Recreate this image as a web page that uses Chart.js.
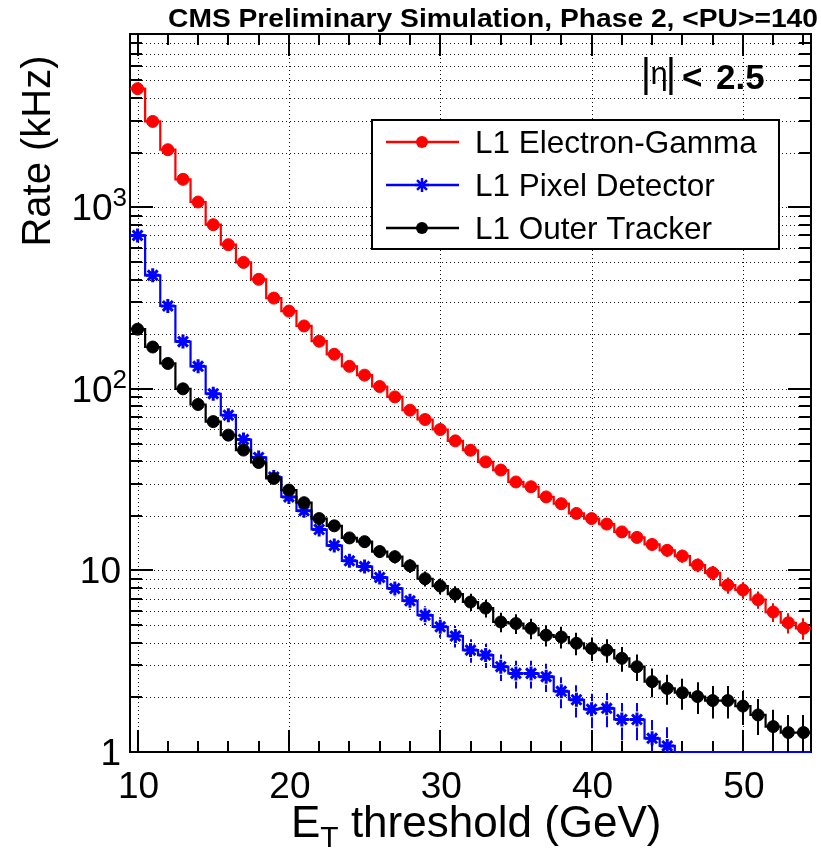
<!DOCTYPE html>
<html>
<head>
<meta charset="utf-8">
<script src="https://cdn.jsdelivr.net/npm/chart.js@4.4.1/dist/chart.umd.min.js"></script>
<style>
html,body{margin:0;padding:0;background:#fff;}
canvas{display:block;}
</style>
</head>
<body>
<canvas id="c" width="821" height="851"></canvas>
<script>
// ---------------- data ----------------
const thresholds = [10,11,12,13,14,15,16,17,18,19,20,21,22,23,24,25,26,27,28,29,30,31,32,33,34,35,36,37,38,39,40,41,42,43,44,45,46,47,48,49,50,51,52,53,54];

const egammaRate = [4500,2970,2075,1425,1069,802,622,497,401,316,268,222,183,155,133,119,103,90.3,76.3,67.8,59.7,51.7,45.9,39.6,35.7,30.7,28.9,25.4,23.3,20.6,19.3,18.0,16.3,15.2,13.9,12.9,12.0,10.7,9.7,8.3,7.8,6.9,5.9,5.15,4.8];
const egammaErr  = [19,15.4,12.9,10.7,9.2,8.0,7.1,6.3,5.7,5.0,4.6,4.2,3.8,3.5,3.3,3.1,2.9,2.7,2.5,2.3,2.2,2.0,1.9,1.8,1.7,1.6,1.5,1.4,1.37,1.28,1.24,1.2,1.14,1.1,1.05,1.02,0.98,0.93,0.88,0.85,0.8,0.75,0.7,0.66,0.65];

const pixelRate = [700,422,286,182,133,94,71.6,52.6,41.9,32.7,25.4,21.3,16.8,13.7,11.3,10.5,9.15,7.96,6.8,5.67,4.89,4.35,3.64,3.42,2.95,2.71,2.71,2.6,2.16,1.94,1.72,1.74,1.51,1.51,1.19,1.08,0,0,0,0,0,0,0,0,0];
const pixelErr  = [7.5,5.8,4.8,3.8,3.3,2.7,2.4,2.05,1.83,1.62,1.43,1.3,1.16,1.05,0.95,0.92,0.86,0.8,0.74,0.67,0.63,0.59,0.54,0.52,0.49,0.47,0.47,0.46,0.42,0.39,0.37,0.37,0.35,0.35,0.31,0.29,0,0,0,0,0,0,0,0,0];

const trackerRate = [213,170,138,100,82,66,55.6,46,39.3,32.1,27.7,23.6,19.3,17.6,15.1,14.4,12.7,11.9,10.6,9.0,8.2,7.4,6.7,6.2,5.2,5.1,4.8,4.4,4.3,3.97,3.72,3.64,3.28,2.95,2.44,2.24,2.12,2.02,1.92,1.92,1.79,1.60,1.38,1.28,1.28];
const trackerErr  = [4.1,3.7,3.3,2.8,2.6,2.3,2.1,1.9,1.77,1.6,1.5,1.37,1.24,1.19,1.1,1.07,1.0,0.98,0.92,0.85,0.81,0.77,0.73,0.7,0.64,0.64,0.62,0.59,0.59,0.56,0.55,0.54,0.51,0.49,0.44,0.42,0.41,0.4,0.39,0.39,0.38,0.36,0.33,0.32,0.32];

const seriesNames = ['L1 Electron-Gamma','L1 Pixel Detector','L1 Outer Tracker'];
const xTickValues = [10,20,30,40,50];
const xTickLabels = ['10','20','30','40','50'];
const yTickValues = [1,10,100,1000];
const yTickLabels = ['1','10','10^2','10^3'];
const titleText = 'CMS Preliminary Simulation, Phase 2, <PU>=140';
const xTitle = ['E','T',' threshold (GeV)'];
const yTitle = 'Rate (kHz)';

// ---------------- setup ----------------
const X_MIN = 9.5, X_MAX = 54.5, Y_MIN = 1, Y_MAX = 9000, BIN = 1;
const FONT = '"Liberation Sans", Arial, Helvetica, sans-serif';
const RED = '#ff0000', BLUE = '#0000ff', BLACK = '#000000';

function stepPoints(rates){
  const pts = thresholds.map((t,i)=>({x:t-BIN/2, y:Math.max(rates[i],Y_MIN)}));
  pts.push({x:thresholds[thresholds.length-1]+BIN/2, y:Math.max(rates[rates.length-1],Y_MIN)});
  return pts;
}
function markerPoints(rates){
  return thresholds.map((t,i)=>({x:t, y:rates[i]>0?rates[i]:null}));
}

const errorMap = {1:{err:egammaErr, rate:egammaRate, color:RED, gap:0},
                  3:{err:trackerErr, rate:trackerRate, color:BLACK, gap:0},
                  5:{err:pixelErr, rate:pixelRate, color:BLUE, gap:8}};

function line(ctx,x1,y1,x2,y2){ctx.beginPath();ctx.moveTo(x1,y1);ctx.lineTo(x2,y2);ctx.stroke();}

const rootStyle = {
  id:'rootStyle',
  beforeDatasetsDraw(chart){
    const {ctx, chartArea:a, scales:{x,y}} = chart;
    ctx.save();
    // grid
    ctx.strokeStyle='#111'; ctx.lineWidth=1; ctx.setLineDash([1,3]);
    xTickValues.forEach(v=>{const p=Math.round(x.getPixelForValue(v))+0.5; line(ctx,p,a.top,p,a.bottom);});
    const yGrid=[];
    yTickValues.forEach(d=>{for(let m=1;m<=9;m++){const v=m*d; if(v>Y_MIN && v<=Y_MAX) yGrid.push(v);}});
    yGrid.forEach(v=>{const p=Math.round(y.getPixelForValue(v))+0.5; line(ctx,a.left,p,a.right,p);});
    ctx.setLineDash([]);
    // frame
    ctx.strokeStyle=BLACK; ctx.lineWidth=2;
    ctx.strokeRect(a.left,a.top,a.right-a.left,a.bottom-a.top);
    // y ticks
    yTickValues.forEach(d=>{for(let m=1;m<=9;m++){const v=m*d; if(v<Y_MIN||v>Y_MAX) continue;
      const p=Math.round(y.getPixelForValue(v)); const L=(m===1)?23:12;
      line(ctx,a.left,p,a.left+L,p); line(ctx,a.right,p,a.right-L,p);}});
    // x ticks
    for(let v=10; v<=X_MAX; v+=2){
      const p=Math.round(x.getPixelForValue(v)); const L=(v%10===0)?22:11;
      line(ctx,p,a.bottom,p,a.bottom-L); line(ctx,p,a.top,p,a.top+L);
    }
    ctx.restore();
  },
  afterDatasetDraw(chart,args){
    const e=errorMap[args.index]; if(!e) return;
    const {ctx, chartArea:a, scales:{x,y}} = chart;
    ctx.save();
    ctx.beginPath(); ctx.rect(a.left,a.top,a.right-a.left,a.bottom-a.top); ctx.clip();
    ctx.strokeStyle=e.color; ctx.lineWidth=2;
    thresholds.forEach((t,i)=>{
      const v=e.rate[i], er=e.err[i]; if(!(v>0) || !(er>0)) return;
      const px=Math.round(x.getPixelForValue(t));
      const pc=y.getPixelForValue(v);
      const ph=y.getPixelForValue(v+er);
      const pl=(v-er>0)?y.getPixelForValue(v-er):a.bottom+5;
      if(pc-ph>e.gap) line(ctx,px,pc-e.gap,px,ph);
      if(pl-pc>e.gap) line(ctx,px,pc+e.gap,px,pl);
    });
    ctx.restore();
  },
  afterDraw(chart){
    const {ctx, chartArea:a, scales:{x,y}} = chart;
    ctx.save();
    ctx.fillStyle=BLACK;
    // y tick labels
    yTickValues.forEach((v,i)=>{
      const p=y.getPixelForValue(v); const lab=yTickLabels[i];
      ctx.textBaseline='alphabetic';
      if(lab.includes('^')){
        const [b,ex]=lab.split('^');
        ctx.font='26px '+FONT; ctx.textAlign='right';
        const exRight=a.left-3;
        ctx.fillText(ex,exRight,p-1);
        const ew=ctx.measureText(ex).width;
        ctx.font='37px '+FONT;
        ctx.fillText(b,exRight-ew,p+13);
      } else {
        ctx.font='37px '+FONT; ctx.textAlign='right';
        ctx.fillText(lab,a.left-9,p+13);
      }
    });
    // x tick labels
    ctx.font='37px '+FONT; ctx.textAlign='center'; ctx.textBaseline='alphabetic';
    xTickValues.forEach((v,i)=>{ctx.fillText(xTickLabels[i], x.getPixelForValue(v)+1, a.bottom+46);});
    // x title
    ctx.textAlign='left';
    let cx=291; const by=837;
    ctx.font='44px '+FONT; ctx.fillText(xTitle[0],cx,by); cx+=ctx.measureText(xTitle[0]).width;
    ctx.font='30px '+FONT; ctx.fillText(xTitle[1],cx,by+10); cx+=ctx.measureText(xTitle[1]).width;
    ctx.font='44px '+FONT; ctx.fillText(xTitle[2],cx,by);
    // y title
    ctx.save(); ctx.translate(50,151); ctx.rotate(-Math.PI/2);
    ctx.font='40px '+FONT; ctx.textAlign='center'; ctx.fillText(yTitle,0,0);
    ctx.restore();
    // top title
    ctx.font='bold 26px '+FONT; ctx.textAlign='left';
    const tw=ctx.measureText(titleText).width;
    ctx.save(); ctx.translate(168,27); ctx.scale(650/tw,1); ctx.fillText(titleText,0,0); ctx.restore();
    // |eta| < 2.5
    ctx.font='40px '+FONT; ctx.textAlign='center';
    ctx.fillText('|',646,87); ctx.fillText('|',671,87);
    ctx.font='31px '+FONT; ctx.fillText('\u03b7',659,84);
    ctx.font='bold 35px '+FONT; ctx.textAlign='left';
    ctx.fillText('<',682,89); ctx.fillText('2.5',716,89);
    // legend
    const lx=372, ly=120, lw=407, lh=129;
    ctx.fillStyle='#fff'; ctx.fillRect(lx,ly,lw,lh);
    ctx.strokeStyle=BLACK; ctx.lineWidth=2; ctx.strokeRect(lx,ly,lw,lh);
    const rows=[142,185,228], cols=[RED,BLUE,BLACK];
    rows.forEach((ry,i)=>{
      ctx.strokeStyle=cols[i]; ctx.lineWidth=2.5; line(ctx,386,ry,459,ry);
      if(i===1){
        Chart.helpers.drawPoint(ctx,{pointStyle:'star',radius:7,borderWidth:3},422,ry);
      } else {
        ctx.fillStyle=cols[i]; ctx.beginPath(); ctx.arc(422,ry,6,0,Math.PI*2); ctx.fill();
      }
      ctx.fillStyle=BLACK; ctx.font='31.5px '+FONT; ctx.textAlign='left'; ctx.textBaseline='alphabetic';
      ctx.fillText(seriesNames[i],475,ry+11);
    });
    ctx.restore();
  }
};

function histDS(rates,color,order){
  return {type:'line', data:stepPoints(rates), stepped:true, borderColor:color, borderWidth:2.2,
    pointRadius:0, fill:false, order:order, tension:0, clip:false};
}
function markDS(name,rates,color,style,radius,order){
  return {type:'line', label:name, data:markerPoints(rates), showLine:false, pointStyle:style,
    pointRadius:radius, pointBackgroundColor:color, pointBorderColor:color,
    pointBorderWidth:style==='star'?3:1, order:order, clip:false};
}

new Chart(document.getElementById('c'),{
  type:'line',
  data:{datasets:[
    histDS(egammaRate,RED,1),
    markDS(seriesNames[0],egammaRate,RED,'circle',6,0),
    histDS(trackerRate,BLACK,3),
    markDS(seriesNames[2],trackerRate,BLACK,'circle',6,2),
    histDS(pixelRate,BLUE,5),
    markDS(seriesNames[1],pixelRate,BLUE,'star',7,4)
  ]},
  options:{
    responsive:false, animation:false, devicePixelRatio:1,
    layout:{padding:{left:130,top:34,right:2,bottom:99}},
    plugins:{legend:{display:false}, tooltip:{enabled:false}},
    scales:{
      x:{type:'linear', min:X_MIN, max:X_MAX, display:false},
      y:{type:'logarithmic', min:Y_MIN, max:Y_MAX, display:false}
    }
  },
  plugins:[rootStyle]
});
</script>
</body>
</html>
